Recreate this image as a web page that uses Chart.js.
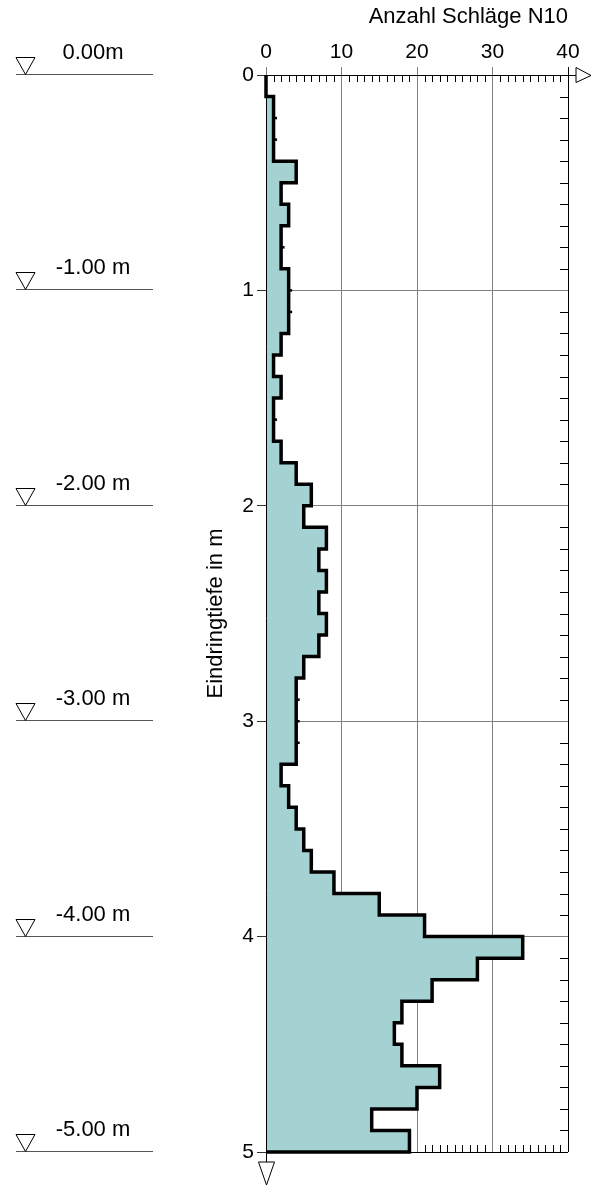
<!DOCTYPE html>
<html>
<head>
<meta charset="utf-8">
<script src="https://cdn.jsdelivr.net/npm/chart.js@4.4.0/dist/chart.umd.min.js"></script>
<style>
  html, body { margin: 0; padding: 0; background: #fff; }
  #wrap { width: 592px; height: 1186px; position: relative; }
</style>
</head>
<body>
<div id="wrap"><canvas id="chart"></canvas></div>
<script>
// Rammsondierung: Schlagzahlen je 10 cm
const depthFrom = [0.0, 0.1, 0.2, 0.3, 0.4, 0.5, 0.6, 0.7, 0.8, 0.9,
                   1.0, 1.1, 1.2, 1.3, 1.4, 1.5, 1.6, 1.7, 1.8, 1.9,
                   2.0, 2.1, 2.2, 2.3, 2.4, 2.5, 2.6, 2.7, 2.8, 2.9,
                   3.0, 3.1, 3.2, 3.3, 3.4, 3.5, 3.6, 3.7, 3.8, 3.9,
                   4.0, 4.1, 4.2, 4.3, 4.4, 4.5, 4.6, 4.7, 4.8, 4.9];
const maxDepth = 5.0;
const blows = [0, 1, 1, 1, 4, 2, 3, 2, 2, 3,
               3, 3, 2, 1, 2, 1, 1, 2, 4, 6,
               5, 8, 7, 8, 7, 8, 7, 5, 4, 4,
               4, 4, 2, 3, 4, 5, 6, 9, 15, 21,
               34, 28, 22, 18, 17, 18, 23, 20, 14, 19];
const xTicks = [0, 10, 20, 30, 40];
const yTicks = [0, 1, 2, 3, 4, 5];
const levelDepths = [0, 1, 2, 3, 4, 5];
const levelLabels = ["0.00m", "-1.00 m", "-2.00 m", "-3.00 m", "-4.00 m", "-5.00 m"];

const FONT = '"Liberation Sans", Arial, sans-serif';
const GRID = '#808080';

// step outline
const stepPts = [{ x: 0, y: 0 }];
const dots = [];
for (let i = 0; i < blows.length; i++) {
    const to = i + 1 < depthFrom.length ? depthFrom[i + 1] : maxDepth;
    stepPts.push({ x: blows[i], y: depthFrom[i] }, { x: blows[i], y: to });
    if (i > 0 && blows[i] === blows[i - 1]) dots.push({ x: blows[i], y: depthFrom[i] });
}
stepPts.push({ x: 0, y: maxDepth });

const decor = {
    id: 'decor',
    beforeDatasetsDraw(chart) {
        const { ctx, chartArea: a, scales: { x, y } } = chart;
        ctx.save();
        ctx.strokeStyle = '#000';
        ctx.lineWidth = 1;
        ctx.beginPath();
        for (let v = 1; v < 40; v++) {
            if (v % 10 === 0) continue;
            const px = Math.round(x.getPixelForValue(v)) + 0.5;
            ctx.moveTo(px, a.top); ctx.lineTo(px, a.top + 7);
            ctx.moveTo(px, a.bottom); ctx.lineTo(px, a.bottom - 7);
        }
        for (let d = 1; d < 50; d++) {
            if (d % 10 === 0) continue;
            const py = Math.round(y.getPixelForValue(d / 10)) + 0.5;
            ctx.moveTo(a.right, py); ctx.lineTo(a.right - 8, py);
        }
        ctx.stroke();
        ctx.restore();
    },
    afterDatasetsDraw(chart) {
        const { ctx, chartArea: a, scales: { y } } = chart;
        ctx.save();
        ctx.strokeStyle = '#000';
        ctx.lineWidth = 1;
        // left axis line
        ctx.beginPath();
        ctx.moveTo(a.left + 0.5, a.top); ctx.lineTo(a.left + 0.5, a.bottom + 10);
        ctx.moveTo(a.right, a.top + 0.5); ctx.lineTo(a.right + 8, a.top + 0.5);
        ctx.stroke();
        // arrow heads
        ctx.fillStyle = '#fff';
        ctx.beginPath();
        ctx.moveTo(a.right + 8, a.top - 7.5);
        ctx.lineTo(a.right + 23, a.top + 0.5);
        ctx.lineTo(a.right + 8, a.top + 7.5);
        ctx.closePath();
        ctx.fill(); ctx.stroke();
        ctx.beginPath();
        ctx.moveTo(a.left - 7.5, a.bottom + 10);
        ctx.lineTo(a.left + 8.5, a.bottom + 10);
        ctx.lineTo(a.left + 0.5, a.bottom + 33);
        ctx.closePath();
        ctx.fill(); ctx.stroke();
        // level markers
        ctx.font = '22px ' + FONT;
        ctx.textAlign = 'center';
        ctx.textBaseline = 'alphabetic';
        levelDepths.forEach((d, i) => {
            const py = Math.round(y.getPixelForValue(d)) - 0.5;
            ctx.strokeStyle = '#555';
            ctx.beginPath();
            ctx.moveTo(16, py); ctx.lineTo(153, py);
            ctx.stroke();
            ctx.strokeStyle = '#000';
            ctx.beginPath();
            ctx.moveTo(16, py - 17); ctx.lineTo(35, py - 17); ctx.lineTo(25.5, py);
            ctx.closePath();
            ctx.stroke();
            ctx.fillStyle = '#000';
            ctx.fillText(levelLabels[i], 93, py - 16);
        });
        ctx.restore();
    }
};

const ctx = document.getElementById('chart').getContext('2d');
const chart = new Chart(ctx, {
    type: 'scatter',
    data: {
        datasets: [
            {
                data: stepPts,
                showLine: true,
                fill: 'shape',
                backgroundColor: '#a4d2d2',
                borderColor: '#000',
                borderWidth: 3.5,
                pointRadius: 0,
                tension: 0,
                clip: 8
            },
            {
                data: dots,
                showLine: false,
                pointStyle: 'line',
                pointRadius: 3.5,
                pointBorderWidth: 2.5,
                pointBorderColor: '#000',
                clip: 8
            }
        ]
    },
    options: {
        responsive: true,
        maintainAspectRatio: false,
        animation: false,
        layout: { padding: { left: 200, right: 24, top: 0, bottom: 34 } },
        plugins: {
            legend: { display: false },
            tooltip: { enabled: false }
        },
        scales: {
            x: {
                type: 'linear',
                position: 'top',
                min: 0,
                max: 40,
                afterFit: s => { s.height = 75; },
                afterBuildTicks: s => { s.ticks = xTicks.map(v => ({ value: v })); },
                ticks: { font: { size: 21, family: FONT }, color: '#000', padding: 2, maxRotation: 0 },
                grid: {
                    color: c => (c.tick && c.tick.value === 40) ? '#000' : GRID,
                    tickLength: 8,
                    lineWidth: 1
                },
                border: { display: true, color: '#000', width: 1 },
                title: {
                    display: true,
                    text: 'Anzahl Schläge N10',
                    align: 'end',
                    font: { size: 22, family: FONT },
                    color: '#000',
                    padding: { top: 4, bottom: 0 }
                }
            },
            y: {
                type: 'linear',
                reverse: true,
                min: 0,
                max: 5,
                afterFit: s => { s.width = 66; },
                afterBuildTicks: s => { s.ticks = yTicks.map(v => ({ value: v })); },
                ticks: { font: { size: 21, family: FONT }, color: '#000', padding: 3 },
                grid: {
                    color: c => (c.tick && c.tick.value === 5) ? '#000' : GRID,
                    tickColor: '#333',
                    tickLength: 9,
                    lineWidth: 1
                },
                border: { display: false },
                title: {
                    display: true,
                    text: 'Eindringtiefe in m',
                    font: { size: 22, family: FONT },
                    color: '#000',
                    padding: { top: 3, bottom: 4 }
                }
            }
        }
    },
    plugins: [decor]
});
</script>
</body>
</html>
